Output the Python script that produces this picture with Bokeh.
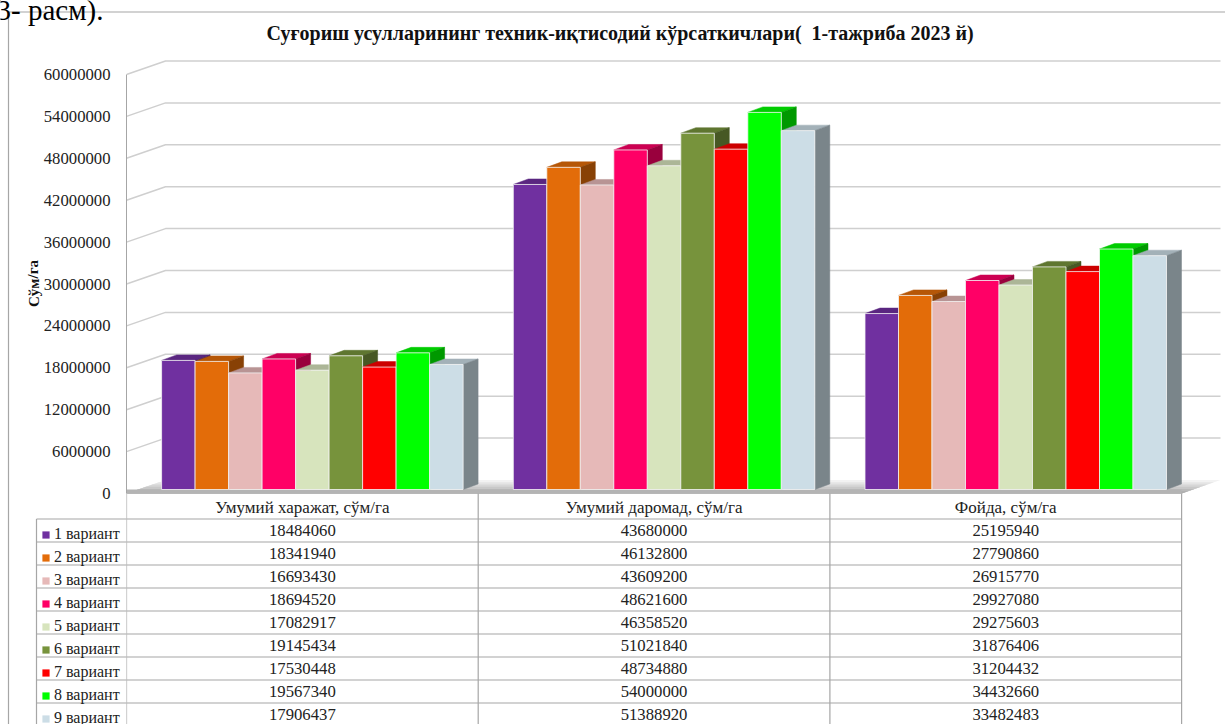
from bokeh.plotting import figure
from bokeh.layouts import row
from bokeh.models import (Range1d, LinearAxis, FixedTicker, Legend, LegendItem, Title)
from bokeh.core.properties import value
from bokeh.embed import file_html
from bokeh.resources import INLINE
import numpy as np

categories = ["Умумий харажат, сўм/га", "Умумий даромад, сўм/га", "Фойда, сўм/га"]
variants = ["1 вариант", "2 вариант", "3 вариант", "4 вариант", "5 вариант",
            "6 вариант", "7 вариант", "8 вариант", "9 вариант"]
costs = [18484060, 18341940, 16693430, 18694520, 17082917, 19145434, 17530448, 19567340, 17906437]
income = [43680000, 46132800, 43609200, 48621600, 46358520, 51021840, 48734880, 54000000, 51388920]
profit = [25195940, 27790860, 26915770, 29927080, 29275603, 31876406, 31204432, 34432660, 33482483]
y_ticks = [0, 6000000, 12000000, 18000000, 24000000, 30000000, 36000000, 42000000, 48000000, 54000000, 60000000]
front = ["#7030A0", "#E36C09", "#E6B9B8", "#FF0066", "#D7E4BD", "#77933C", "#FF0000", "#00FF00", "#CCDDE6"]
top_c = ["#5A2680", "#B65707", "#B89494", "#CC0052", "#ACB697", "#5F7630", "#CC0000", "#00CC00", "#A3B1B8"]
side_c = ["#431C60", "#884105", "#8A6F6E", "#99003D", "#818971", "#475824", "#990000", "#009900", "#7A858A"]

FONT = "Liberation Serif"
W, H = 1225, 724
FL, FT = 126, 48            # frame left / top on the canvas
Y0 = 493                    # pixel row of value 0
PX_PER_UNIT_Y = 419 / 60000000
UNIT_X = 351.7              # pixels per category
py = lambda px: px / PX_PER_UNIT_Y
px_ = lambda px: px / UNIT_X
ROW0, ROWH = 530, 23
TBL = "#A6A6A6"

# ---- backdrop figure: frame fills the page; page-pixel ranges ----
bg = figure(width=W, height=H, output_backend="svg", toolbar_location=None, frame_align=False,
            x_range=Range1d(0, W), y_range=Range1d(H, 0), min_border=0,
            x_axis_location=None, y_axis_location=None, outline_line_color=None,
            background_fill_color="white", border_fill_color="white")
bg.grid.visible = False
row_y = [ROW0 + ROWH * (r - 0.5) for r in range(9)]
bg.segment(x0=[36] * 9, x1=[FL] * 9, y0=row_y, y1=row_y, line_color=TBL, line_width=1.2)
bg.segment(x0=[36, 8, 8], x1=[36, 8, W], y0=[row_y[0], 11.5, 11.5], y1=[H, H, 11.5],
           line_color=TBL, line_width=1.2)
bg.text(x=[-4], y=[9], text=["3- расм)."], text_font=value(FONT), text_font_size="29px",
        text_color="black", text_baseline="alphabetic")
bg.text(x=[33], y=[283], text=["Сўм/га"], text_font=value(FONT), text_font_size="15px",
        text_font_style="bold", text_color="#111111", angle=1.5708, text_align="center",
        text_baseline="middle")
items = []
for i in range(9):
    sw = bg.vbar(x=[-50], top=[-50], bottom=[-60], width=5, fill_color=front[i], line_color=None)
    items.append(LegendItem(label=variants[i], renderers=[sw]))
legend = Legend(items=items, location=(41, -3), padding=0, margin=0, spacing=5,
                glyph_width=9, glyph_height=9, label_height=18, label_standoff=4,
                label_text_font=FONT, label_text_font_size="16px", label_text_color="#222222",
                background_fill_alpha=0, border_line_color=None)
bg.add_layout(legend, "center")

# ---- chart figure, laid over the backdrop ----
x_range = Range1d(-0.5, -0.5 + (W - FL) / UNIT_X)
y_range = Range1d(-py(H - Y0), py(Y0 - FT))
rows_range = Range1d((H - ROW0) / ROWH, (FT - ROW0) / ROWH)

p = figure(width=W, height=H, output_backend="svg", toolbar_location=None, frame_align=False,
           x_range=x_range, y_range=y_range, min_border_left=FL, min_border_top=FT,
           min_border_right=0, min_border_bottom=0, margin=(0, 0, 0, -W),
           background_fill_color=None, border_fill_color=None,
           x_axis_location=None, y_axis_location=None, outline_line_color=None, title=None)
p.extra_y_ranges = {"rows": rows_range}
p.grid.visible = False

title = Title(text="Суғориш усулларининг техник-иқтисодий кўрсаткичлари(\u00a0 1-тажриба 2023 й)",
              text_font=FONT, text_font_size="20px", text_font_style="bold", text_color="#111111",
              align="left", offset=266 - FL, standoff=9)
p.add_layout(title, "above")

axis = LinearAxis(ticker=FixedTicker(ticks=y_ticks), bounds=(0, 60000000),
                  major_label_text_font=FONT, major_label_text_font_size="16.7px",
                  major_label_text_color="#222222", major_label_standoff=10,
                  major_tick_line_color=None, minor_tick_line_color=None,
                  axis_line_color="#A6A6A6", axis_line_width=1)
axis.formatter.use_scientific = False
p.add_layout(axis, "left")

# back wall grid with side wall diagonals
BX, BY = 39, 13.5
xl, xr = -0.5, -0.5 + (1220 - FL) / UNIT_X
p.multi_line([[xl, xl + px_(BX), xr] for t in y_ticks[1:]],
             [[t, t + py(BY), t + py(BY)] for t in y_ticks[1:]],
             line_color="#CFCFCF", line_width=1.5)

# floor, darkening toward the viewer
grays = ["#F2F2F2", "#E4E4E4", "#D6D6D6", "#C8C8C8", "#BABABA", "#AEAEAE"]
for k, g in enumerate(grays):
    d = BY * (1 - k / len(grays))
    fx1 = xr - px_(BX)
    p.patch([xl, xl + px_(d / BY * BX), fx1 + px_(d / BY * BX), fx1],
            [0, py(d), py(d), 0], fill_color=g, line_color=None)
p.patch([xl, xr - px_(BX), xr - px_(BX), xl], [0, 0, py(4), py(4)], fill_color="#B4B4B4", line_color=None)

# bars
SF_X, SF_Y = 10, 4          # gap between floor front edge and bar front
DX, DY = 15, 5.5            # bar depth
BW = 33.5 / UNIT_X
series = np.array([costs, income, profit], dtype=float)
groups = np.arange(3)
for i in range(9):
    xc = groups + (i - 4) * BW + px_(SF_X)
    vals = series[:, i] + py(SF_Y)
    base = py(SF_Y)
    l, r = xc - BW / 2, xc + BW / 2
    ddx, ddy = px_(DX), py(DY)
    p.patches([[a, a + ddx, b + ddx, b] for a, b in zip(l, r)],
              [[v, v + ddy, v + ddy, v] for v in vals],
              fill_color=top_c[i], line_color=top_c[i], line_width=0.5)
    p.patches([[b, b + ddx, b + ddx, b] for b in r],
              [[v, v + ddy, base + ddy, base] for v in vals],
              fill_color=side_c[i], line_color=side_c[i], line_width=0.5)
    p.vbar(x=xc, top=vals, bottom=base, width=BW, fill_color=front[i],
           line_color="#F4F4F4", line_width=0.8)

# data table
r_top = (Y0 - ROW0) / ROWH
r_bot = (H - ROW0) / ROWH
p.segment(x0=[-0.5, 0.5, 1.5, 2.5], y0=[r_top] * 4, x1=[-0.5, 0.5, 1.5, 2.5], y1=[r_bot] * 4,
          y_range_name="rows", line_color=TBL, line_width=1.2)
row_lines = np.arange(9) - 0.5
p.segment(x0=[-0.5] * 9, y0=row_lines, x1=[2.5] * 9, y1=row_lines,
          y_range_name="rows", line_color=TBL, line_width=1.2)
p.text(x=groups, y=[-1.0] * 3, text=categories, y_range_name="rows", text_font=value(FONT),
       text_font_size="17px", text_align="center", text_baseline="middle", text_color="#222222")
for g in range(3):
    p.text(x=[g] * 9, y=np.arange(9), text=[str(v) for v in series[g].astype(int)], y_range_name="rows",
           text_font=value(FONT), text_font_size="16.7px", text_align="center",
           text_baseline="middle", text_color="#222222")

page = row(bg, p)
open("out.html", "w").write(file_html(page, INLINE))
